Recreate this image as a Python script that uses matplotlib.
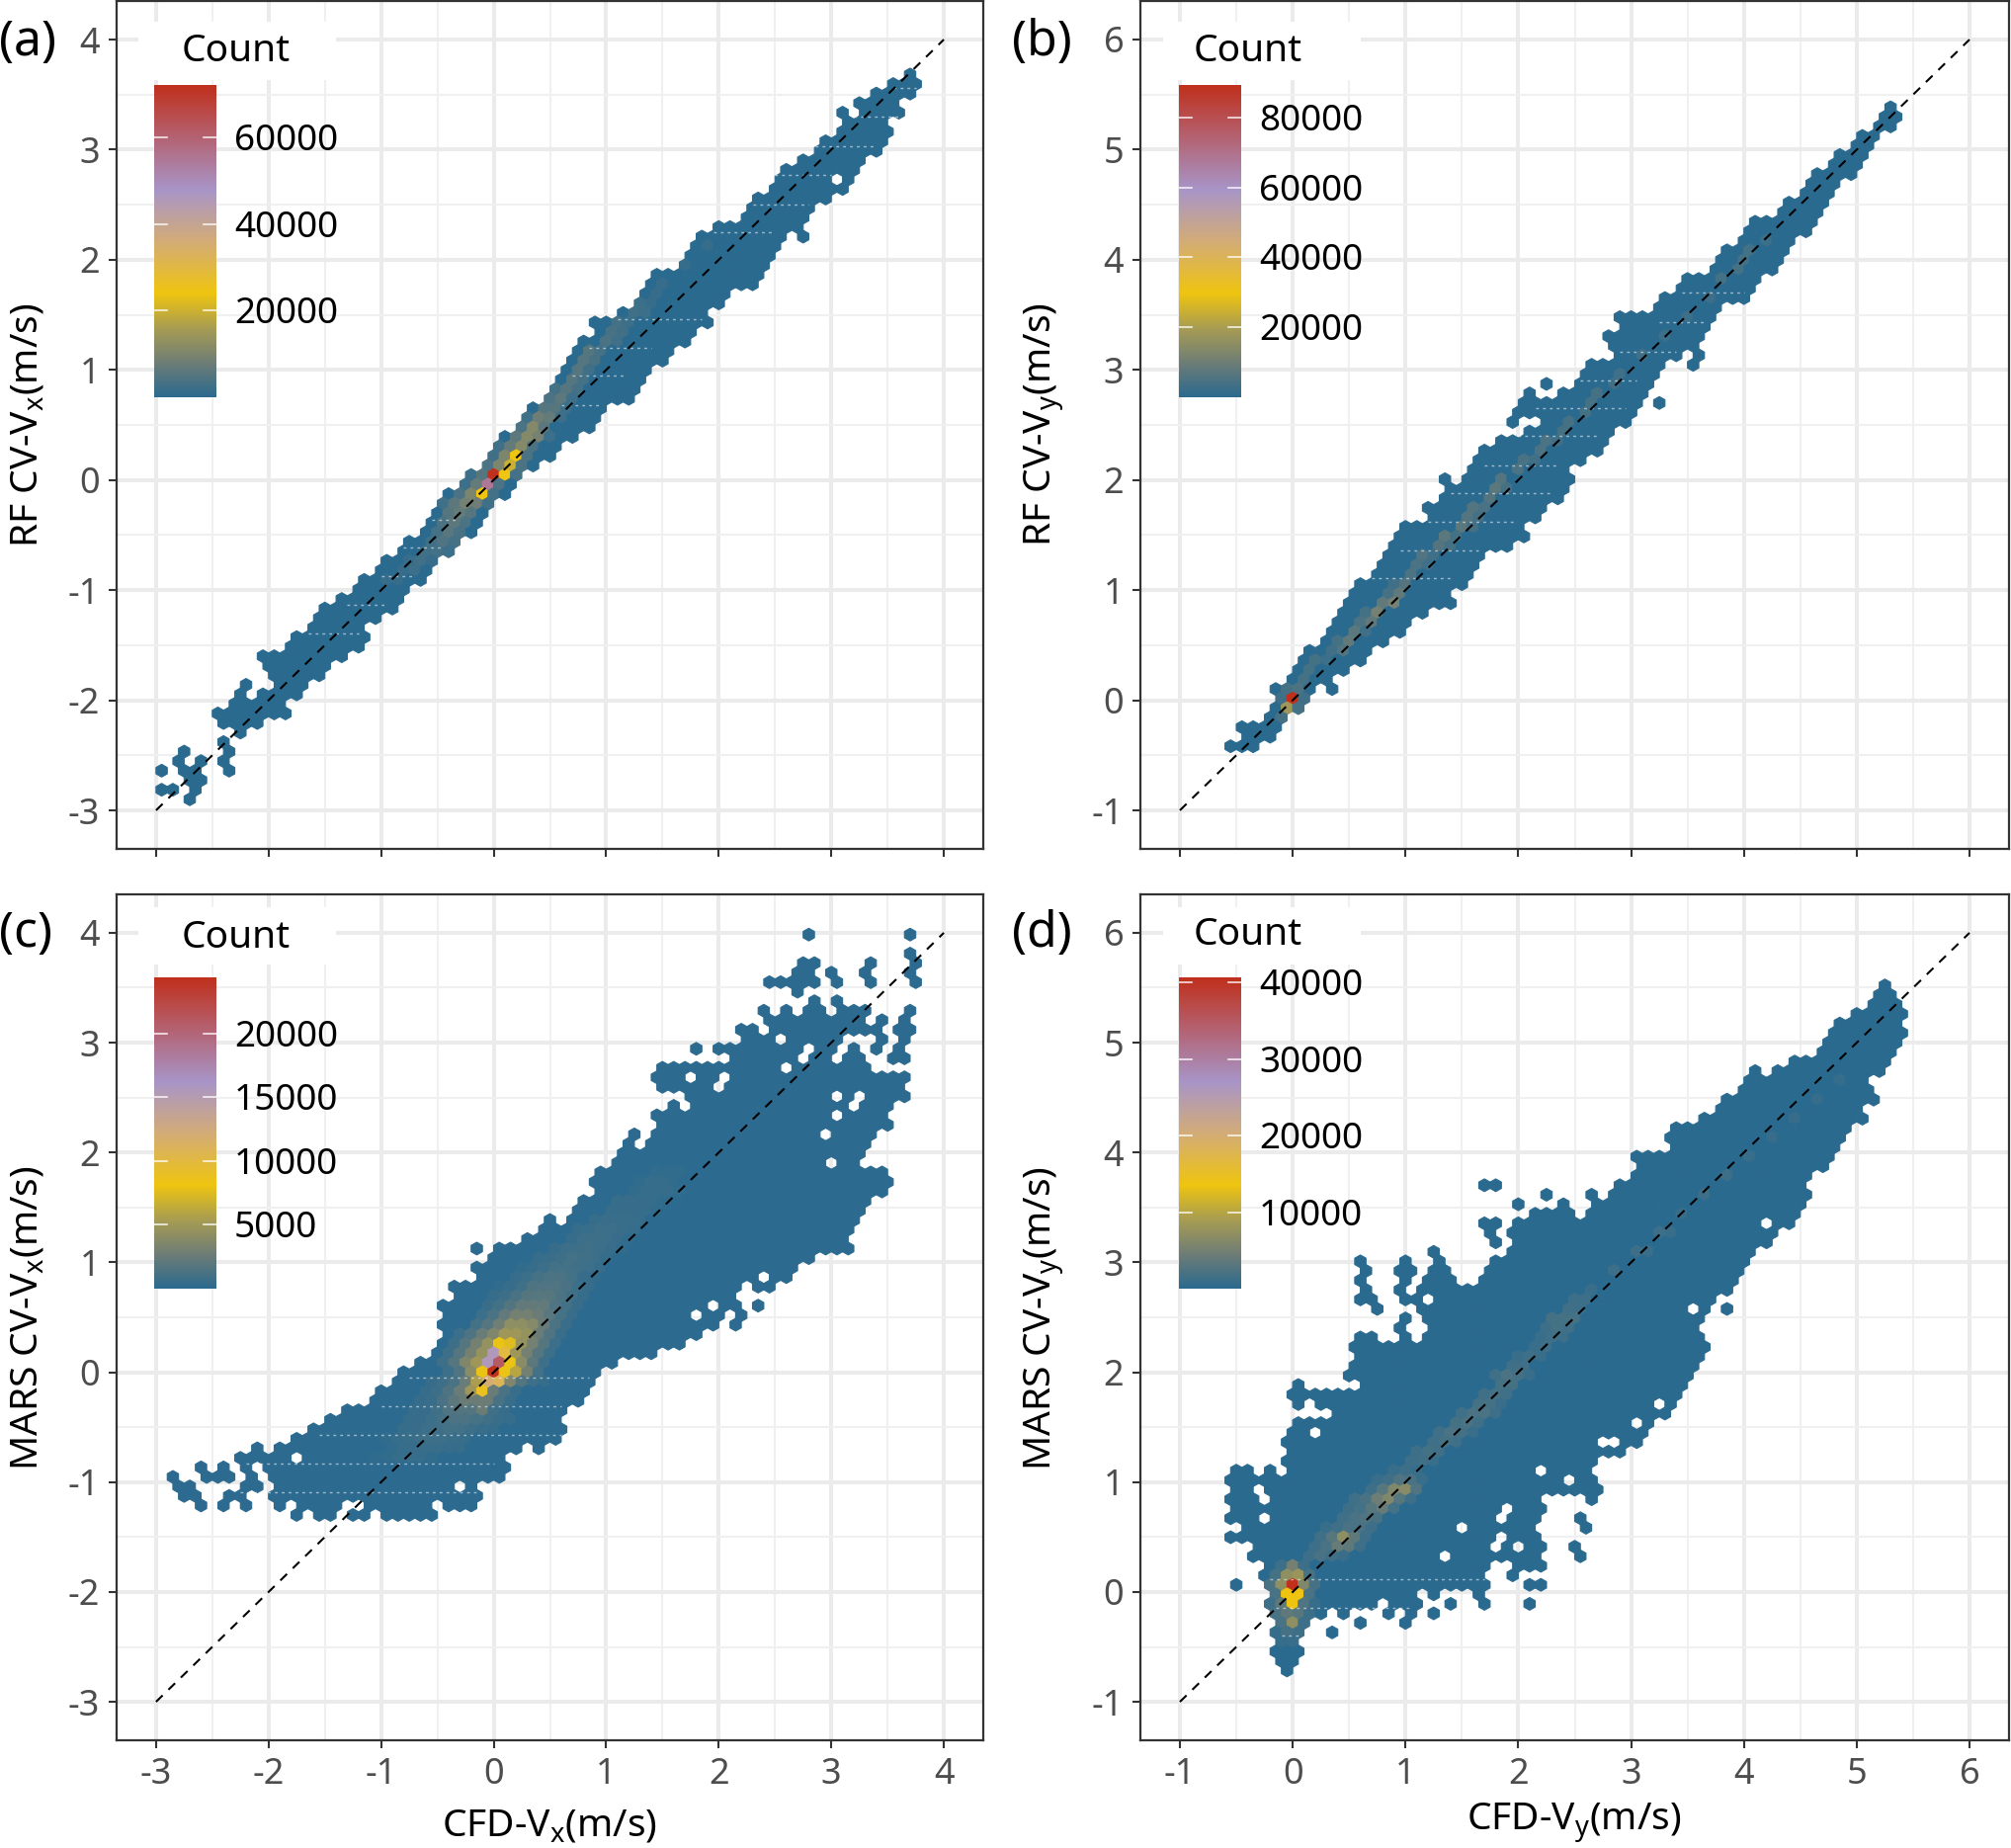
import numpy as np
import matplotlib
matplotlib.use("Agg")
import matplotlib.pyplot as plt
from matplotlib.collections import PolyCollection
from matplotlib.colors import LinearSegmentedColormap, Normalize

plt.rcParams['font.family'] = ['Noto Sans', 'DejaVu Sans']
plt.rcParams['mathtext.default'] = 'regular'

W, H = 2035, 1870
STEP = 0.1
ROW = 0.0866

scale_stops = [0.0, 0.11, 0.216, 0.333, 0.5, 0.665, 1.0]
scale_colors = ['#2B6A8F', '#6E7D76', '#A59B55', '#EFC510', '#D3AC78', '#A895C8', '#C0301C']

# rows: (row index, occupied x values or (from, to) spans)
rows_a = [
 (42,[3.7]),(41,[(3.55,3.75)]),(40,[(3.4,3.7)]),(39,[(3.25,3.55)]),(38,[3.1,(3.3,3.6)]),(37,[(3.15,3.45)]),
 (36,[(3.1,3.5)]),(35,[(2.95,3.45)]),(34,[(2.9,3.4)]),(33,[(2.75,3.25)]),(32,[(2.6,3.2)]),(31,[(2.55,2.95),3.15]),
 (30,[(2.5,3.1)]),(29,[(2.35,2.95)]),(28,[(2.3,2.8)]),(27,[(2.25,2.75)]),(26,[(2.0,2.7)]),(25,[(1.85,2.55),2.75]),
 (24,[(1.8,2.5)]),(23,[(1.75,2.45)]),(22,[(1.7,2.4)]),(21,[(1.45,2.35)]),(20,[(1.4,2.3)]),(19,[(1.35,2.05)]),
 (18,[(1.3,2.0)]),(17,[(1.15,1.85)]),(16,[0.9,(1.0,1.9)]),(15,[(0.95,1.75)]),(14,[(0.8,1.7)]),(13,[(0.75,1.55)]),
 (12,[(0.7,1.5)]),(11,[(0.65,1.35)]),(10,[(0.6,1.3)]),(9,[(0.55,1.25)]),(8,[(0.5,1.2)]),(7,[(0.35,0.95)]),
 (6,[(0.3,0.9)]),(5,[(0.25,0.85)]),(4,[(0.1,0.7)]),(3,[(0.05,0.55)]),(2,[(0.0,0.5)]),(1,[(-0.05,0.35)]),
 (0,[(-0.2,0.2)]),(-1,[(-0.25,0.15)]),(-2,[(-0.4,0.1)]),(-3,[(-0.45,-0.05)]),(-4,[(-0.5,-0.1)]),(-5,[(-0.55,-0.15)]),
 (-6,[(-0.6,-0.2)]),(-7,[(-0.75,-0.35)]),(-8,[(-0.8,-0.4)]),(-9,[(-0.95,-0.55)]),(-10,[(-1.0,-0.6)]),(-11,[(-1.15,-0.65)]),
 (-12,[(-1.2,-0.8)]),(-13,[(-1.35,-0.85)]),(-14,[(-1.5,-0.9)]),(-15,[(-1.55,-1.05)]),(-16,[(-1.6,-1.2)]),(-17,[(-1.7,-1.2)]),
 (-18,[(-1.8,-1.2)]),(-19,[(-2.05,-1.35)]),(-20,[(-2.0,-1.5)]),(-21,[(-1.95,-1.55)]),(-22,[-2.2,(-1.9,-1.7)]),(-23,[-2.25,(-2.05,-1.75)]),
 (-24,[(-2.3,-1.9)]),(-25,[(-2.45,-1.85)]),(-26,[-2.4,(-2.3,-2.1)]),(-27,[-2.25]),(-28,[-2.4]),(-29,[-2.75,-2.35]),
 (-30,[-2.8,-2.6,-2.4]),(-31,[-2.95,-2.75,-2.65,-2.35]),(-32,[-2.7,-2.6]),(-33,[-2.95,-2.85,-2.65]),(-34,[-2.7]),
]
rows_b = [
 (62,[5.3]),(61,[(5.25,5.35)]),(60,[(5.2,5.3)]),(59,[(5.05,5.15)]),(58,[(5.0,5.1)]),(57,[(4.85,5.05)]),(56,[(4.8,5.0)]),
 (55,[(4.65,4.95)]),(54,[(4.6,4.8)]),(53,[(4.55,4.75)]),(52,[(4.4,4.7)]),(51,[(4.35,4.65)]),(50,[(4.1,4.6)]),(49,[(4.05,4.55)]),
 (48,[(4.0,4.4)]),(47,[(3.85,4.35)]),(46,[(3.8,4.3)]),(45,[(3.75,4.25)]),(44,[(3.5,4.1)]),(43,[(3.45,4.05)]),(42,[(3.3,4.0)]),
 (41,[(3.25,3.75)]),(40,[2.9,(3.0,3.7)]),(39,[(2.95,3.65)]),(38,[(2.85,3.6)]),(37,[(2.85,3.55)]),(36,[(2.9,3.4),3.6]),
 (35,[(2.6,3.25),3.55]),(34,[(2.6,3.2)]),(33,[2.25,(2.55,3.15)]),(32,[2.1,(2.4,3.1)]),(31,[(2.1,3.05),3.25]),(30,[(1.95,3.0)]),
 (29,[1.95,(2.25,2.95)]),(28,[(2.1,2.8)]),(27,[(1.85,2.75)]),(26,[(1.7,2.7)]),(25,[(1.65,2.55)]),(24,[(1.6,2.4)]),
 (23,[1.35,(1.55,2.45)]),(22,[(1.4,2.4)]),(21,[(1.35,2.35)]),(20,[(1.2,2.2)]),(19,[(1.25,2.15)]),(18,[(1.0,2.0)]),(17,[(0.95,2.05)]),
 (16,[(0.9,1.9)]),(15,[(0.85,1.65)]),(14,[(0.8,1.6)]),(13,[(0.75,1.55)]),(12,[(0.6,1.5)]),(11,[(0.55,1.35)]),(10,[(0.5,1.4)]),
 (9,[(0.45,1.15)]),(8,[(0.4,1.0)]),(7,[(0.35,0.95)]),(6,[(0.3,0.8)]),(5,[(0.15,0.7)]),(4,[(0.1,0.6)]),(3,[(0.05,0.45)]),
 (2,[(0.0,0.3)]),(1,[(-0.15,0.15),0.35]),(0,[(-0.1,0.1)]),(-1,[(-0.15,0.05)]),(-2,[(-0.2,-0.1)]),(-3,[(-0.45,-0.15)]),
 (-4,[(-0.4,-0.2)]),(-5,[-0.55,(-0.45,-0.35)]),
]
rows_c = [
 (46,[2.8,3.7]),(44,[3.7]),(43,[(2.75,2.85),3.35,3.75]),(42,[(2.7,2.8),3.0,3.3,3.7]),(41,[(2.45,2.85),3.05,3.35,3.75]),
 (40,[2.7]),(39,[2.85,3.05]),(38,[2.4,2.6,(2.8,2.9),(3.1,3.3),3.7]),(37,[(2.45,3.25),3.45,3.65]),(36,[(2.2,2.3),(2.5,3.4),(3.6,3.7)]),
 (35,[(2.25,2.45),(2.65,3.05),3.45,3.65]),(34,[1.8,(2.0,2.7),(2.9,3.0),3.2,3.4,3.6]),(33,[(2.15,2.65),(2.85,2.95),(3.15,3.25),(3.55,3.65)]),
 (32,[(1.5,2.5),(2.7,3.3)]),(31,[(1.45,1.65),(1.85,1.95),(2.15,3.65)]),(30,[(1.5,1.9),(2.1,3.6)]),(29,[(1.75,2.95),3.15,(3.35,3.65)]),
 (28,[1.6,(1.8,3.1),(3.3,3.5)]),(27,[(1.45,2.95),(3.15,3.45)]),(26,[(1.5,3.5)]),(25,[1.25,(1.45,2.85),(3.05,3.35)]),(24,[1.2,(1.4,3.3)]),
 (23,[(1.15,3.25)]),(22,[(1.1,2.9),(3.1,3.2)]),(21,[(0.95,3.45)]),(20,[(0.9,3.5)]),(19,[(0.95,3.45)]),(18,[(0.8,3.3)]),(17,[(0.75,3.25)]),
 (16,[0.5,(0.7,3.2)]),(15,[(0.45,3.15)]),(14,[0.3,(0.4,3.1)]),(13,[-0.15,(0.05,2.95),(3.05,3.15)]),(12,[(0.0,2.8)]),(11,[-0.15,(-0.05,2.65)]),
 (10,[(-0.1,2.3),(2.5,2.6)]),(9,[(-0.35,2.15),(2.35,2.45)]),(8,[(-0.3,2.1)]),(7,[(-0.45,1.85),2.05,2.15,2.35]),(6,[(-0.4,1.7),(1.9,2.0),2.2]),
 (5,[(-0.45,1.95),2.15]),(4,[(-0.4,1.8)]),(3,[(-0.45,1.65)]),(2,[(-0.5,1.4)]),(1,[(-0.65,1.05)]),(0,[(-0.8,0.9)]),(-1,[(-0.85,0.85)]),
 (-2,[(-1.0,0.8)]),(-3,[(-1.05,0.75)]),(-4,[(-1.3,0.6)]),(-5,[(-1.45,0.55)]),(-6,[(-1.6,0.6)]),(-7,[(-1.75,0.55)]),(-8,[-2.1,(-1.9,0.2),0.4]),
 (-9,[(-2.25,-1.85),(-1.65,0.05)]),(-10,[-2.6,-2.4,-2.2,(-2.0,0.1)]),(-11,[-2.85,(-2.55,-2.35),-2.15,(-1.95,0.05)]),
 (-12,[-2.8,-2.7,(-2.2,-2.1),(-1.9,-0.4),-0.2]),(-13,[-2.75,-2.65,-2.35,-2.25,(-1.95,-0.15)]),
 (-14,[-2.6,-2.4,-2.2,-1.9,(-1.7,-1.4),(-1.1,-0.6),(-0.4,-0.2)]),(-15,[-1.75,(-1.55,-1.45),(-1.25,-1.15),(-0.95,-0.55)]),
]
rows_d = [
 (63,[5.25]),(62,[(5.2,5.3)]),(61,[(5.15,5.35)]),(60,[(5.0,5.4)]),(59,[(4.85,5.35)]),(58,[(4.8,5.4)]),(57,[(4.75,5.35)]),(56,[(4.7,5.3)]),
 (55,[(4.45,5.25)]),(54,[4.1,(4.3,5.2)]),(53,[(4.05,5.05)]),(52,[(4.0,5.1)]),(51,[(3.85,5.15)]),(50,[(3.8,5.0)]),(49,[(3.65,5.05)]),
 (48,[(3.4,4.9)]),(47,[(3.35,4.85)]),(46,[(3.4,4.8)]),(45,[(3.05,4.75)]),(44,[(3.1,4.7)]),(43,[(3.05,4.55)]),(42,[1.7,1.8,(2.9,4.5)]),
 (41,[2.25,2.65,(2.85,4.55)]),(40,[2.0,2.4,(2.7,4.5)]),(39,[(2.15,2.45),(2.65,4.45)]),(38,[1.7,1.8,(2.0,4.1),(4.3,4.4)]),(37,[1.75,(1.95,4.25)]),
 (36,[1.8,(2.0,4.15)]),(35,[1.25,(1.95,4.05)]),(34,[0.6,1.0,1.3,(1.8,4.0)]),(33,[0.65,0.95,1.05,(1.25,1.35),(1.75,3.95)]),
 (32,[0.6,1.0,(1.2,1.4),(1.7,3.9)]),(31,[0.65,0.95,(1.15,3.85)]),(30,[0.6,0.7,1.0,1.1,(1.3,3.7)]),(29,[0.75,(1.15,3.45),3.65,3.85]),
 (28,[1.0,(1.2,3.6)]),(27,[0.95,(1.25,3.55)]),(26,[0.6,0.7,1.0,(1.2,3.6)]),(25,[(0.55,3.65)]),(24,[(0.6,3.6)]),(23,[(0.6,3.55)]),(22,[(0.5,3.5)]),
 (21,[0.05,(0.65,3.45)]),(20,[(0.0,3.4)]),(19,[0.05,(0.25,3.15),3.35]),(18,[(0.4,3.3)]),(17,[(0.05,2.95),3.15]),(16,[(0.0,0.1),(0.3,3.1)]),
 (15,[(-0.05,2.65),(2.95,3.05)]),(14,[(0.0,2.9)]),(13,[(-0.05,2.65)]),(12,[-0.5,-0.4,-0.2,(0.0,2.1),(2.3,2.6)]),(11,[(-0.55,2.35),(2.55,2.65)]),
 (10,[(-0.5,-0.4),(-0.2,2.7)]),(9,[(-0.5,-0.35),(-0.15,2.15),2.65]),(8,[(-0.5,1.8),(2.0,2.2)]),(7,[(-0.55,-0.35),(-0.15,1.75),(1.95,2.15),2.55]),
 (6,[(-0.4,1.4),(1.6,2.1),2.6]),(5,[(-0.55,1.75),(1.95,2.15)]),(4,[(-0.3,1.7),1.9,(2.1,2.2),2.5]),(3,[(-0.35,1.25),(1.45,1.8),(1.95,2.15),2.55]),
 (2,[(-0.2,1.7),(2.0,2.2)]),(1,[(-0.25,1.65),1.95]),(0,[-0.5,(-0.2,1.7),(2.1,2.2)]),(-1,[(-0.15,1.05),1.25,1.65]),
 (-2,[(-0.2,0.7),(0.9,1.1),1.4,1.7,2.1]),(-3,[(-0.15,0.25),0.45,0.85,1.05,1.25]),(-4,[(-0.1,0.1),0.6,1.0]),(-5,[(-0.15,0.05),0.35]),
 (-6,[(-0.1,0.0)]),(-7,[(-0.15,0.05)]),(-8,[(-0.1,0.0)]),(-9,[-0.05]),
]

# counts of the tinted cells: (row index, first x, counts at 0.1 steps)
counts_a = [
 (0,-0.2,[2000,5000,72100,24000,3000]),(-1,-0.25,[2000,7000,55000,4000]),(-2,-0.3,[4000,10000,24000,3000]),
 (-3,-0.45,[2500,6000,9000,8000,2500]),(-4,-0.4,[5000,7000,5000]),(-5,-0.45,[4000,6000,4000]),(-6,-0.5,[3000,5500,3500]),
 (-7,-0.55,[2500,4500,3000]),(-8,-0.6,[2500,3000,2000]),(-9,-0.75,[1500,2500,1500]),(-10,-0.8,[1500,2000]),(-11,-0.9,[1200,1500]),
 (1,-0.05,[4000,10000,20000,4000]),(2,0.0,[2500,10000,24000,4000]),(3,0.05,[2500,7000,11000,4000]),(4,0.2,[6000,11000,9000,2000]),
 (5,0.25,[4000,11000,6000]),(6,0.3,[2500,8000,7000,2000]),(7,0.45,[5000,5000,2000]),(8,0.5,[4000,6000,2000]),(9,0.55,[3000,5000,3000]),
 (10,0.7,[5000,3000]),(11,0.75,[5000,2500]),(12,0.8,[5000,3500]),(13,0.9,[5000,3000]),(14,1.0,[4000,2500]),(15,1.05,[3500,2500]),
 (16,1.1,[3000,2000]),(17,1.25,[2500,2000]),(18,1.3,[2000,1500]),(19,1.45,[1500]),(20,1.5,[1500]),(22,1.7,[1200]),(24,1.9,[1200]),
]
counts_b = [
 (0,-0.1,[3000,89300,3000]),(-1,-0.05,[18000,4000]),(-2,-0.1,[4000]),(1,-0.05,[4000,5000]),(2,0.1,[4000]),(3,0.15,[4000]),
 (4,0.2,[4000,2500]),(5,0.35,[3000,6000]),(6,0.4,[4000,8000]),(7,0.55,[7000,3000]),(8,0.6,[5000,8000]),(9,0.65,[4000,11000]),
 (10,0.8,[8000,11000]),(11,0.85,[4000,8000]),(12,0.9,[3000,6000]),(13,1.05,[5000]),(14,1.1,[5000,3000]),(15,1.15,[5500,3000]),
 (16,1.3,[6000,4000]),(17,1.35,[7000,4000]),(18,1.5,[7000,4000]),(19,1.55,[6000,4000]),(20,1.6,[6000,4500]),(21,1.75,[6000]),
 (22,1.8,[7000,4000]),(23,1.85,[6000]),(24,2.0,[5000]),(25,2.05,[4500,3000]),(26,2.2,[5000]),(27,2.25,[5000,3000]),(28,2.4,[4000]),
 (29,2.45,[4000]),(30,2.6,[4000]),(31,2.65,[4000]),(32,2.7,[4000]),(33,2.85,[3000]),(34,2.9,[3000]),(36,3.1,[3000]),(38,3.3,[2500]),
 (40,3.5,[2500]),(42,3.7,[2500]),(44,3.8,[3500]),(45,3.95,[4000]),(46,4.0,[3500]),(47,4.05,[3500]),(48,4.2,[2500]),
]
counts_c = [
 (0,-0.4,[700,1500,4000,8000,24400,8000,6000,3000,1000]),(1,-0.45,[800,1700,3500,5000,15500,21000,8000,4000,2000,800]),
 (2,-0.4,[800,1700,3000,4500,15500,10000,5000,3000,1700,700]),(3,-0.35,[800,1700,3000,4500,8000,7500,4500,3000,1700,700]),
 (4,-0.3,[700,1400,2500,3500,5000,5000,4500,2500,1500,600]),(5,-0.15,[1000,1700,2800,4200,4200,3800,2400,1300,600]),
 (6,-0.1,[700,1300,2200,3000,3000,2600,1900,1100,600]),(7,-0.05,[600,1000,1600,2200,2300,2200,1500,1000,500]),
 (8,0.0,[500,800,1200,1700,1800,1800,1300,900,400]),(9,0.05,[300,500,900,1400,1500,1500,1200,700,400]),
 (10,0.2,[400,700,1100,1300,1300,1000,500,300]),(11,0.25,[300,500,700,1000,1000,900,700,400]),(12,0.4,[400,600,800,1000,900,700,400]),
 (13,0.55,[500,700,800,900,700,500,300]),(14,0.7,[500,700,800,700,500,300]),(15,0.75,[400,600,700,700,600,400]),
 (16,0.9,[400,600,600,600,400]),(17,1.05,[400,500,500,400,300]),(18,1.1,[400,500,500,400,300]),(19,1.25,[300,400,400,400,300]),
 (20,1.3,[300,400,400,300]),(21,1.45,[300,300,300]),
 (-1,-0.55,[500,800,1200,2500,5500,12000,11000,3500,1600,800,400]),(-2,-0.6,[400,800,1400,2500,5000,8800,2500,1200,600]),
 (-3,-0.65,[400,600,1200,2000,2600,2600,2600,1200,600]),(-4,-0.7,[400,500,900,1500,1600,1600,2600,900,400]),
 (-5,-0.75,[400,500,700,1000,1300,1300,1100,900,600,400]),(-6,-0.8,[400,500,700,900,1000,1000,800,600,400]),
 (-7,-0.9,[300,400,600,800,800,700,600,400]),(-8,-0.95,[300,400,500,600,600,500,400]),(-9,-1.05,[200,300,400,400,400,300]),
]
counts_d = [
 (0,-0.2,[2000,7000,40700,6000,1800]),(-1,-0.15,[2000,13500,13500,2000]),(-2,-0.2,[1200,3500,13500,2500,800]),
 (-3,-0.15,[2000,3500,3000,1200]),(-4,-0.1,[2000,7000,1200]),(-5,-0.15,[700,1800,1200]),(-6,-0.1,[700,1000]),
 (1,-0.15,[1800,7000,8000,2000]),(2,-0.1,[1200,5000,1200]),(3,0.15,[1200,2000,1500,900]),(4,0.2,[1200,2000,4000,3500,1200]),
 (5,0.25,[1500,3000,7000,3500,1200]),(6,0.3,[900,1400,2000,2000,1200]),(7,0.45,[1500,2000,2500,2000]),(8,0.5,[1200,1600,3000,4000,1600]),
 (9,0.55,[1400,2000,4500,6000,3000,1200]),(10,0.7,[1200,3000,6000,6500,2500]),(11,0.75,[900,1400,2500,2000,900]),
 (12,0.9,[1000,1300,1000]),(13,1.05,[1200,1400,1000]),(14,1.1,[1200,1800,1400]),(15,1.25,[1400,1800,1400]),(16,1.3,[1400,2200,1800,1000]),
 (17,1.45,[1800,2200,1400]),(18,1.5,[1400,2200,2200,1300]),(19,1.65,[1800,1800,1000]),(20,1.7,[1400,1800,1400]),(21,1.85,[1800,1800]),
 (22,1.8,[1400,2200,1800,1000]),(23,1.95,[1400,1400]),(24,2.0,[1000,1400,1000]),(25,2.15,[1000,1200]),(26,2.2,[1000,1400,1200]),
 (27,2.25,[1200,1800,1400]),(28,2.3,[1800,1800,1800]),(29,2.45,[1400,1200]),(30,2.5,[1200,1200]),(31,2.65,[1000]),(33,2.85,[1200]),
 (35,3.05,[1200,1000]),(37,3.25,[1200,1000]),(39,3.45,[1000]),(41,3.65,[1200]),(43,3.85,[1200]),(45,4.05,[1000]),(47,4.25,[800]),
 (49,4.45,[800]),(51,4.65,[700]),(53,4.85,[700]),
]
BASE_COUNT = 60

# white rendering seams in the cloud: (y, x from, x to)
seams_a = [(-1.39,-1.65,-1.2),(-1.13,-1.3,-0.95),(-0.87,-1.0,-0.7),(-0.61,-0.8,-0.45),(-0.36,-0.55,-0.3),(0.68,0.6,0.95),
           (0.95,0.7,1.15),(1.2,0.85,1.4),(1.46,1.1,1.85),(2.25,1.95,2.5),(2.5,2.3,2.8),(2.77,2.5,3.0),(3.03,2.8,3.4),(3.3,3.2,3.6),(3.56,3.55,3.75)]
seams_b = [(1.11,0.7,1.4),(1.36,0.95,1.65),(1.62,1.2,1.95),(1.88,1.4,2.3),(2.13,1.7,2.35),(2.4,2.0,2.7),(2.65,2.15,2.95),
           (2.9,2.55,3.05),(3.16,2.9,3.4),(3.43,3.25,3.65),(3.7,3.45,4.0)]
seams_c = [(-0.05,-0.75,0.85),(-0.31,-1.0,0.6),(-0.57,-1.55,0.6),(-0.83,-2.2,0.0),(-1.09,-2.25,-0.15)]
seams_d = [(0.113,-0.2,1.7),(-0.145,-0.15,1.05),(-0.4,-0.1,0.05)]

panel_tags = ['(a)', '(b)', '(c)', '(d)']
y_titles = ['RF CV-V$_x$(m/s)', 'RF CV-V$_y$(m/s)', 'MARS CV-V$_x$(m/s)', 'MARS CV-V$_y$(m/s)']
x_titles = ['', '', 'CFD-V$_x$(m/s)', 'CFD-V$_y$(m/s)']
ticks_vx = [-3, -2, -1, 0, 1, 2, 3, 4]
ticks_vy = [-1, 0, 1, 2, 3, 4, 5, 6]
legend_ticks = [[20000, 40000, 60000], [20000, 40000, 60000, 80000],
                [5000, 10000, 15000, 20000], [10000, 20000, 30000, 40000]]
legend_max = [72100, 89300, 24400, 40700]
row_offsets = [0.045, 0.015, 0.0, 0.065]
all_rows = [rows_a, rows_b, rows_c, rows_d]
all_counts = [counts_a, counts_b, counts_c, counts_d]
all_seams = [seams_a, seams_b, seams_c, seams_d]

cmap = LinearSegmentedColormap.from_list('count', list(zip(scale_stops, scale_colors)), N=512)
fig = plt.figure(figsize=(W / 100, H / 100), dpi=100, facecolor='white')


def box(l, t, r, b):
    return [l / W, 1 - b / H, (r - l) / W, (b - t) / H]


FRAMES = [(118, 1, 995, 859), (1154, 1, 2033, 859), (118, 905, 995, 1761), (1154, 905, 2033, 1761)]
BARS = [(156, 86, 219, 402), (1193, 86, 1256, 402), (156, 989, 219, 1304), (1193, 989, 1256, 1304)]
TITLE_BOX = [(140, 22, 340, 81), (1177, 22, 1377, 81), (140, 918, 340, 976), (1177, 918, 1377, 976)]
COUNT_XY = [(184, 52), (1208, 52), (184, 949), (1208, 946)]
TAG_XY = [(-1, 43), (1024, 43), (-1, 945), (1024, 945)]
YLAB_XY = [(28, 430), (1056, 430), (28, 1334), (1056, 1334)]
XLAB_XY = [None, None, (556, 1848), (1593, 1845)]


def cells_from_rows(rows):
    cells = {}
    for k, spans in rows:
        off = 0.5 if k % 2 else 0.0
        for s in spans:
            lo, hi = (s, s) if not isinstance(s, tuple) else s
            m0 = int(round(lo / STEP - off))
            m1 = int(round(hi / STEP - off))
            for m in range(m0, m1 + 1):
                cells[(k, m)] = BASE_COUNT
    return cells


for i in range(4):
    ax = fig.add_axes(box(*FRAMES[i]))
    ticks = ticks_vx if i % 2 == 0 else ticks_vy
    lim = (ticks[0] - 0.35, ticks[-1] + 0.35)
    ax.set_xlim(lim)
    ax.set_ylim(lim)
    ax.set_xticks(ticks)
    ax.set_yticks(ticks)
    minor = [t + 0.5 for t in ticks[:-1]]
    ax.set_xticks(minor, minor=True)
    ax.set_yticks(minor, minor=True)
    ax.grid(True, which='major', color='#EBEBEB', lw=2.9, zorder=0)
    ax.grid(True, which='minor', color='#F0F0F0', lw=1.5, zorder=0)
    ax.set_axisbelow(True)
    ax.tick_params(which='minor', length=0)
    ax.tick_params(which='major', length=6, width=1.5, color='#333333', labelcolor='#4D4D4D',
                   labelsize=26, pad=6, labelbottom=(i >= 2))
    ax.set_xticklabels([str(t) for t in ticks] if i >= 2 else [''] * len(ticks))
    ax.set_yticklabels([str(t) for t in ticks])
    for sp in ax.spines.values():
        sp.set_color('#333333')
        sp.set_linewidth(1.6)
        sp.set_zorder(6)

    y0 = row_offsets[i]
    cells = cells_from_rows(all_rows[i])
    for k, xs, vals in all_counts[i]:
        off = 0.5 if k % 2 else 0.0
        m0 = int(round(xs / STEP - off))
        for j, v in enumerate(vals):
            if (k, m0 + j) in cells:
                cells[(k, m0 + j)] = v

    R = STEP / np.sqrt(3)
    ang = np.deg2rad(np.array([90, 150, 210, 270, 330, 30]))
    verts, vals = [], []
    for (k, m), v in cells.items():
        off = 0.5 if k % 2 else 0.0
        cx = (m + off) * STEP
        cy = y0 + k * ROW
        verts.append(np.column_stack([cx + R * np.cos(ang), cy + R * np.sin(ang)]))
        vals.append(v)
    norm = Normalize(0, legend_max[i])
    pc = PolyCollection(verts, array=np.array(vals, float), cmap=cmap, norm=norm,
                        edgecolors='face', linewidths=0.8, zorder=2)
    ax.add_collection(pc)

    for yy, x0, x1 in all_seams[i]:
        ax.plot([x0, x1], [yy, yy], color='white', lw=1.0, alpha=0.55, ls=(0, (2, 3)), zorder=3)

    ax.plot([ticks[0], ticks[-1]], [ticks[0], ticks[-1]], color='black', lw=1.5, ls=(0, (4.5, 3.94)), zorder=4)

    # legend
    l, t, r, b = TITLE_BOX[i]
    tb = fig.add_axes(box(l, t, r, b), zorder=5)
    tb.set_facecolor('white')
    tb.axis('off')
    tb.add_patch(plt.Rectangle((0, 0), 1, 1, transform=tb.transAxes, color='white', lw=0))
    cx_, cy_ = COUNT_XY[i]
    fig.text(cx_ / W, 1 - cy_ / H, 'Count', ha='left', va='center', fontsize=28, color='black', zorder=10)

    bar = fig.add_axes(box(*BARS[i]), zorder=6)
    grad = np.linspace(1, 0, 512)[:, None]
    bar.imshow(grad, aspect='auto', cmap=cmap, vmin=0, vmax=1,
               extent=(0, 1, 0, legend_max[i]), interpolation='bilinear')
    bar.set_xlim(0, 1)
    bar.set_ylim(0, legend_max[i])
    bar.axis('off')
    for tv in legend_ticks[i]:
        bar.plot([0, 0.2], [tv, tv], color='white', lw=1.2, alpha=0.85)
        bar.plot([0.8, 1], [tv, tv], color='white', lw=1.2, alpha=0.85)
        bl, bt, br, bb = BARS[i]
        ypx = bb - (bb - bt) * tv / legend_max[i]
        fig.text((br + 18) / W, 1 - (ypx + 4) / H, str(tv), ha='left', va='center', fontsize=26.6, color='black', zorder=10)

    tx, ty = TAG_XY[i]
    fig.text(tx / W, 1 - ty / H, panel_tags[i], ha='left', va='center', fontsize=36, color='black')
    yx, yy = YLAB_XY[i]
    fig.text(yx / W, 1 - yy / H, y_titles[i], rotation=90, ha='center', va='center', fontsize=28, color='black')
    if XLAB_XY[i]:
        xx, xy = XLAB_XY[i]
        fig.text(xx / W, 1 - xy / H, x_titles[i], ha='center', va='center', fontsize=28, color='black')

fig.savefig('out.png', dpi=100, facecolor='white')
